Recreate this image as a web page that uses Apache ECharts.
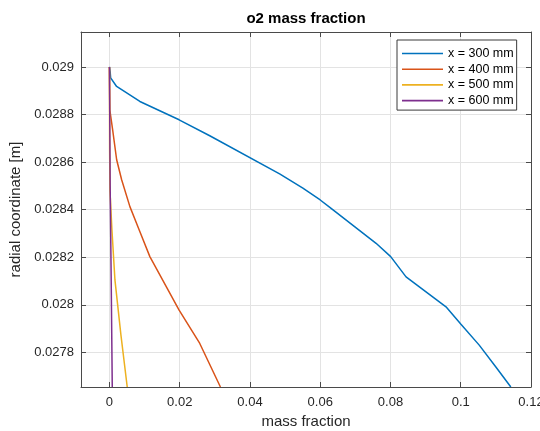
<!DOCTYPE html>
<html>
<head>
<meta charset="utf-8">
<script src="https://cdn.jsdelivr.net/npm/echarts@6/dist/echarts.min.js"></script>
<style>
  html, body { margin: 0; padding: 0; background: #fff; }
  #chart { width: 540px; height: 431px; }
</style>
</head>
<body>
<div id="chart"></div>
<script>
// Radial profiles of O2 mass fraction at four axial stations
const seriesNames = ['x = 300 mm', 'x = 400 mm', 'x = 500 mm', 'x = 600 mm'];

const massX300 = [0, 0.0002, 0.00034, 0.00204, 0.00866, 0.01983, 0.02855, 0.04844, 0.05506, 0.06, 0.06264, 0.0759, 0.08006, 0.08443, 0.0958, 0.10006, 0.10526, 0.11, 0.11426];
const radiusX300 = [0.029, 0.02898, 0.028954, 0.028918, 0.028855, 0.028778, 0.028711, 0.028551, 0.028491, 0.028441, 0.028411, 0.028259, 0.028203, 0.028118, 0.027992, 0.027919, 0.027831, 0.027739, 0.027655];

const massX400 = [0, 0.0001, 0.00091, 0.00205, 0.00347, 0.00582, 0.00847, 0.0115, 0.01983, 0.02571, 0.03159];
const radiusX400 = [0.029, 0.02882, 0.028736, 0.02861, 0.028526, 0.028413, 0.028315, 0.028203, 0.027978, 0.027838, 0.027655];

const massX500 = [0, 0.00005, 0.00014, 0.00071, 0.00156, 0.00327, 0.00506];
const radiusX500 = [0.029, 0.02865, 0.028483, 0.028315, 0.028105, 0.027873, 0.027655];

const massX600 = [0, 0.0001, 0.0002, 0.0005, 0.0008];
const radiusX600 = [0.029, 0.02875, 0.0285, 0.0281, 0.027655];

const xTickValues = [0, 0.02, 0.04, 0.06, 0.08, 0.1, 0.12];
const xTickLabels = ['0', '0.02', '0.04', '0.06', '0.08', '0.1', '0.12'];
const yTickValues = [0.0278, 0.028, 0.0282, 0.0284, 0.0286, 0.0288, 0.029];
const yTickLabels = ['0.0278', '0.028', '0.0282', '0.0284', '0.0286', '0.0288', '0.029'];

const colors = ['#0072BD', '#D95319', '#EDB120', '#7E2F8E'];
const FONT = 'Liberation Sans, Arial, Helvetica, sans-serif';
const AXIS_COLOR = '#4a4a4a';
const TEXT_COLOR = '#262626';

function pairs(xs, ys) {
  return xs.map((x, i) => [x, ys[i]]);
}

function labelFor(values, labels) {
  return function (v) {
    let best = 0;
    for (let i = 1; i < values.length; i++) {
      if (Math.abs(values[i] - v) < Math.abs(values[best] - v)) best = i;
    }
    return labels[best];
  };
}

const X_MIN = -0.0081, X_MAX = 0.12;
const Y_MIN = 0.027655, Y_MAX = 0.029147;

function xAxisDef(pos, withLabels) {
  return {
    type: 'value', position: pos, min: X_MIN, max: X_MAX,
    name: withLabels ? 'mass fraction' : '',
    nameLocation: 'middle', nameGap: 22,
    nameTextStyle: { fontFamily: FONT, fontSize: 15, color: TEXT_COLOR },
    axisLine: { show: true, onZero: false, lineStyle: { color: AXIS_COLOR, width: 1 } },
    axisTick: { show: true, inside: true, length: 5, customValues: xTickValues, lineStyle: { color: AXIS_COLOR } },
    axisLabel: {
      show: withLabels, customValues: xTickValues, margin: 9, hideOverlap: false,
      fontFamily: FONT, fontSize: 13, color: TEXT_COLOR,
      formatter: labelFor(xTickValues, xTickLabels)
    },
    splitLine: { show: withLabels, lineStyle: { color: '#e3e3e3', width: 1 } }
  };
}

function yAxisDef(pos, withLabels) {
  return {
    type: 'value', position: pos, min: Y_MIN, max: Y_MAX,
    name: withLabels ? 'radial coordinate [m]' : '',
    nameLocation: 'middle', nameGap: 50,
    nameTextStyle: { fontFamily: FONT, fontSize: 15, color: TEXT_COLOR },
    axisLine: { show: true, onZero: false, lineStyle: { color: AXIS_COLOR, width: 1 } },
    axisTick: { show: true, inside: true, length: 5, customValues: yTickValues, lineStyle: { color: AXIS_COLOR } },
    axisLabel: {
      show: withLabels, customValues: yTickValues, margin: 7,
      fontFamily: FONT, fontSize: 13, color: TEXT_COLOR,
      formatter: labelFor(yTickValues, yTickLabels)
    },
    splitLine: { show: withLabels, lineStyle: { color: '#e3e3e3', width: 1 } }
  };
}

const profiles = [
  pairs(massX300, radiusX300),
  pairs(massX400, radiusX400),
  pairs(massX500, radiusX500),
  pairs(massX600, radiusX600)
];

const chart = echarts.init(document.getElementById('chart'), null, { renderer: 'canvas' });
chart.setOption({
  animation: false,
  backgroundColor: '#ffffff',
  color: colors,
  title: {
    text: 'o2 mass fraction',
    left: 306, top: 11, padding: 0, textAlign: 'center',
    textStyle: { fontFamily: FONT, fontSize: 15, fontWeight: 'bold', color: '#000' }
  },
  grid: { left: 81, top: 32, right: 9, bottom: 44, containLabel: false, outerBoundsMode: 'none' },
  xAxis: [xAxisDef('bottom', true), xAxisDef('top', false)],
  yAxis: [yAxisDef('left', true), yAxisDef('right', false)],
  legend: {
    orient: 'vertical', left: 397, top: 40,
    padding: [7, 3, 3, 5], itemGap: 2.7, itemWidth: 41, itemHeight: 1.6, itemTextGap: 3,
    icon: 'rect',
    backgroundColor: '#fff', borderColor: '#3a3a3a', borderWidth: 1,
    textStyle: { fontFamily: FONT, fontSize: 12.5, color: '#000' },
    data: seriesNames
  },
  series: profiles.map((d, i) => ({
    name: seriesNames[i], type: 'line', data: d,
    xAxisIndex: 0, yAxisIndex: 0,
    showSymbol: false, symbol: 'none', smooth: false, clip: true,
    lineStyle: { width: 1.5, color: colors[i] },
    itemStyle: { color: colors[i] }
  }))
});
</script>
</body>
</html>
